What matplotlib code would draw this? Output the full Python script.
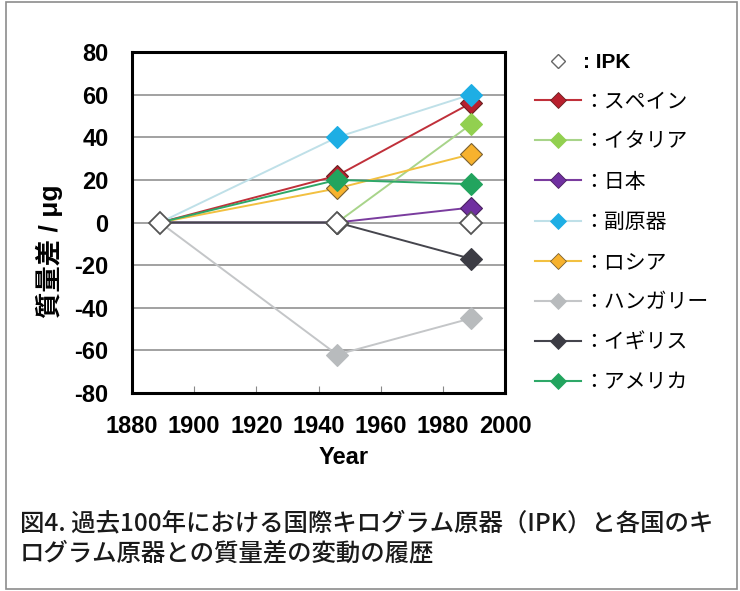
import matplotlib
matplotlib.use('Agg')
import matplotlib.pyplot as plt
from matplotlib.lines import Line2D
from matplotlib.patches import Rectangle

plt.rcParams['font.family'] = ['Liberation Sans', 'Noto Sans CJK JP']
plt.rcParams['axes.unicode_minus'] = False

years = [1889, 1946, 1989]

names = ['スペイン', 'イタリア', '日本', '副原器', 'ロシア', 'ハンガリー', 'イギリス', 'アメリカ']
values = [
    [0, 22, 56],    # スペイン
    [0, 0, 46],     # イタリア
    [0, 0, 7],      # 日本
    [0, 40, 60],    # 副原器
    [0, 16, 32],    # ロシア
    [0, -62, -45],  # ハンガリー
    [0, 0, -17],    # イギリス
    [0, 20, 18],    # アメリカ
]
ipk = [0, 0, 0]

line_colors = ['#C0303A', '#A8D48A', '#7A3C9E', '#BFE0E8', '#F2C040', '#C4C6C8', '#45454D', '#2EA868']
marker_colors = ['#B8202E', '#92D050', '#7030A0', '#1EAEE4', '#F7B22E', '#B8BBBD', '#3C3C44', '#22A45E']
edge_colors = ['#6A2020', '#92D050', '#4A2060', '#1EAEE4', '#7A6030', '#B8BBBD', '#3C3C44', '#22A45E']

yticks = [-80, -60, -40, -20, 0, 20, 40, 60, 80]
xticks = [1880, 1900, 1920, 1940, 1960, 1980, 2000]

fig = plt.figure(figsize=(7.4, 5.91), dpi=100)
fig.patches.append(Rectangle((6 / 740, 2 / 591), 731 / 740, 587 / 591, transform=fig.transFigure,
                             fill=False, edgecolor='#8C8C8C', linewidth=1.2))

ax = fig.add_axes([132 / 740, 1 - 393 / 591, 373 / 740, 341 / 591])

handles = []
for name, vals, lc, mc, ec in zip(names, values, line_colors, marker_colors, edge_colors):
    ax.plot(years, vals, color=lc, linewidth=1.4, zorder=3)
    ax.plot(years[1:], vals[1:], linestyle='none', marker='D', markersize=11,
            markerfacecolor=mc, markeredgecolor=ec, markeredgewidth=0.8, zorder=4)
    handles.append(Line2D([], [], color=lc, linewidth=1.5, marker='D', markersize=8,
                          markerfacecolor=mc, markeredgecolor=ec, markeredgewidth=0.6))

ax.plot(years, ipk, linestyle='none', marker='D', markersize=11, markerfacecolor='white',
        markeredgecolor='#555555', markeredgewidth=1.3, zorder=6)
ipk_handle = Line2D([], [], linestyle='none', marker='D', markersize=7, markerfacecolor='white',
                    markeredgecolor='#666666', markeredgewidth=1.0)

ax.set_xlim(1880, 2000)
ax.set_ylim(-80, 80)
ax.set_yticks(yticks)
ax.set_xticks(xticks)
ax.grid(axis='y', color='#9A9A9A', linewidth=1.3, zorder=1)
ax.set_axisbelow(True)
for s in ax.spines.values():
    s.set_linewidth(2.2)
    s.set_color('black')
ax.tick_params(axis='y', length=0, pad=17, labelsize=17)
ax.tick_params(axis='x', direction='in', length=5, color='#888888', pad=16, labelsize=17)
for lab in ax.get_xticklabels() + ax.get_yticklabels():
    lab.set_fontweight('bold')

ax.set_xlabel('Year', fontsize=17, fontweight='bold')
ax.xaxis.set_label_coords((344 - 132) / 373, -0.155)
ax.set_ylabel('質量差 / μg', fontsize=19, fontweight='bold',
              family=['Liberation Sans', 'Noto Sans CJK JP'])
ax.yaxis.set_label_coords(-0.185, 0.416)

labels = [': IPK'] + ['：' + n for n in names]
leg = fig.legend([ipk_handle] + handles, labels, loc='upper left',
                 bbox_to_anchor=(527 / 740, 1 - 45 / 591), frameon=False,
                 prop={'family': 'Noto Sans CJK JP', 'size': 15},
                 handlelength=2.2, handletextpad=0.1, labelspacing=0.87, borderaxespad=0)
leg.get_texts()[0].set_fontweight('bold')
leg.get_texts()[0].set_family('Liberation Sans')

fig.text(20 / 740, 1 - 523 / 591, '図4. 過去100年における国際キログラム原器（IPK）と各国のキ',
         fontsize=17.6, fontweight='medium', family=['Noto Sans CJK JP'], va='center', ha='left',
         color='#1A1A1A')
fig.text(20 / 740, 1 - 553 / 591, 'ログラム原器との質量差の変動の履歴',
         fontsize=17.6, fontweight='medium', family=['Noto Sans CJK JP'], va='center', ha='left',
         color='#1A1A1A')

fig.savefig('out.png', dpi=100)
